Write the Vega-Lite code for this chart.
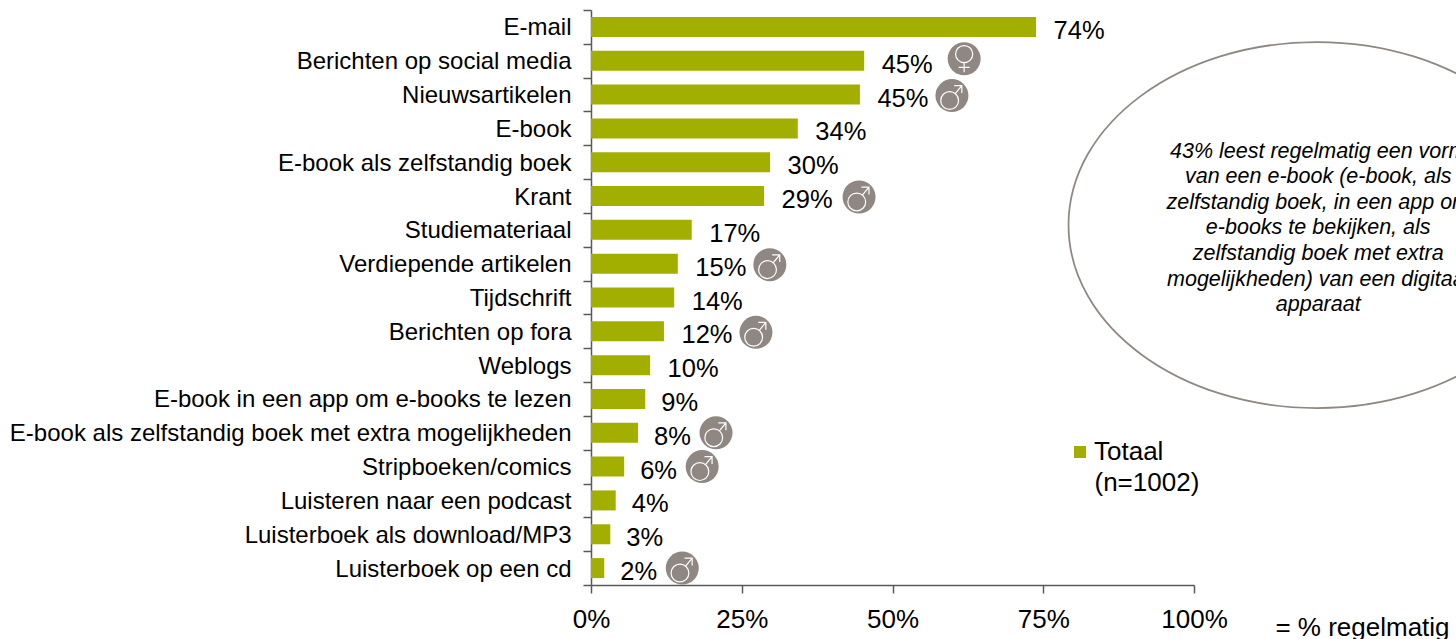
{"$schema":"https://vega.github.io/schema/vega-lite/v6.json","autosize":"none","width":603,"height":575,"padding":{"left":591,"top":10,"right":262,"bottom":54},"background":"white","config":{"view":{"stroke":null},"font":"Liberation Sans"},
"data":{"values":[
{"item":"E-mail","value":73.8,"label":"74%","gender":"","series":"Totaal"},
{"item":"Berichten op social media","value":45.3,"label":"45%","gender":"v","series":"Totaal"},
{"item":"Nieuwsartikelen","value":44.6,"label":"45%","gender":"m","series":"Totaal"},
{"item":"E-book","value":34.3,"label":"34%","gender":"","series":"Totaal"},
{"item":"E-book als zelfstandig boek","value":29.7,"label":"30%","gender":"","series":"Totaal"},
{"item":"Krant","value":28.7,"label":"29%","gender":"k","series":"Totaal"},
{"item":"Studiemateriaal","value":16.7,"label":"17%","gender":"","series":"Totaal"},
{"item":"Verdiepende artikelen","value":14.4,"label":"15%","gender":"m","series":"Totaal"},
{"item":"Tijdschrift","value":13.8,"label":"14%","gender":"","series":"Totaal"},
{"item":"Berichten op fora","value":12.1,"label":"12%","gender":"m","series":"Totaal"},
{"item":"Weblogs","value":9.8,"label":"10%","gender":"","series":"Totaal"},
{"item":"E-book in een app om e-books te lezen","value":9.0,"label":"9%","gender":"","series":"Totaal"},
{"item":"E-book als zelfstandig boek met extra mogelijkheden","value":7.8,"label":"8%","gender":"m","series":"Totaal"},
{"item":"Stripboeken/comics","value":5.5,"label":"6%","gender":"m","series":"Totaal"},
{"item":"Luisteren naar een podcast","value":4.1,"label":"4%","gender":"","series":"Totaal"},
{"item":"Luisterboek als download/MP3","value":3.2,"label":"3%","gender":"","series":"Totaal"},
{"item":"Luisterboek op een cd","value":2.2,"label":"2%","gender":"m","series":"Totaal"}
]},
"encoding":{
"x":{"field":"value","type":"quantitative","scale":{"domain":[0,100],"clamp":false,"nice":false},"axis":{"values":[0,25,50,75,100],"labelExpr":"datum.value+'%'","title":null,"grid":false,"domainColor":"#595959","tickColor":"#595959","domainWidth":1.5,"tickWidth":1.5,"tickSize":8,"labelFontSize":26,"labelColor":"#000000","labelPadding":13,"labelFlush":false,"labelFont":"Liberation Sans"}},
"y":{"field":"item","type":"nominal","sort":null,"scale":{"domain":["E-mail","Berichten op social media","Nieuwsartikelen","E-book","E-book als zelfstandig boek","Krant","Studiemateriaal","Verdiepende artikelen","Tijdschrift","Berichten op fora","Weblogs","E-book in een app om e-books te lezen","E-book als zelfstandig boek met extra mogelijkheden","Stripboeken/comics","Luisteren naar een podcast","Luisterboek als download/MP3","Luisterboek op een cd"],"paddingInner":0,"paddingOuter":0},"axis":{"title":null,"tickBand":"extent","domainColor":"#595959","tickColor":"#595959","domainWidth":1.5,"tickWidth":1.5,"tickSize":8,"labelFontSize":24,"labelColor":"#000000","labelPadding":12,"labelLimit":700,"labelOffset":1,"labelFont":"Liberation Sans"}}
},
"layer":[
{"mark":{"type":"bar","size":20},"encoding":{"color":{"field":"series","type":"nominal","scale":{"range":["#a3af00"]},"legend":{"title":null,"orient":"none","legendX":476,"legendY":429,"symbolType":"square","symbolSize":144,"labelFontSize":26,"labelOffset":1,"labelColor":"#000000","labelFont":"Liberation Sans","symbolOpacity":1}}}},
{"transform":[{"filter":"datum.value>=9.5"}],"mark":{"type":"text","align":"left","baseline":"middle","dx":17.5,"dy":4,"fontSize":25.5,"color":"#000000"},"encoding":{"text":{"field":"label"}}},
{"transform":[{"filter":"datum.value<9.5"}],"mark":{"type":"text","align":"left","baseline":"middle","dx":16,"dy":4,"fontSize":25.5,"color":"#000000"},"encoding":{"text":{"field":"label"}}},
{"transform":[{"filter":"datum.gender=='m' && datum.value>=10"}],"mark":{"type":"point","shape":"circle","filled":true,"size":1089,"color":"#8f8782","opacity":1,"xOffset":92,"yOffset":1}},
{"transform":[{"filter":"datum.gender=='m' && datum.value>=10"}],"mark":{"type":"point","shape":"M0.40,0.3A0.54,0.54,0,1,1,-0.68,0.3A0.54,0.54,0,1,1,0.40,0.3M0.2,-0.117L0.6,-0.6M0.14,-0.6L0.6,-0.6L0.6,-0.16","filled":false,"size":1089,"color":"#ffffff","strokeWidth":1.2,"opacity":1,"xOffset":92,"yOffset":1}},
{"transform":[{"filter":"datum.gender=='k'"}],"mark":{"type":"point","shape":"circle","filled":true,"size":1089,"color":"#8f8782","opacity":1,"xOffset":95,"yOffset":1}},
{"transform":[{"filter":"datum.gender=='k'"}],"mark":{"type":"point","shape":"M0.40,0.3A0.54,0.54,0,1,1,-0.68,0.3A0.54,0.54,0,1,1,0.40,0.3M0.2,-0.117L0.6,-0.6M0.14,-0.6L0.6,-0.6L0.6,-0.16","filled":false,"size":1089,"color":"#ffffff","strokeWidth":1.2,"opacity":1,"xOffset":95,"yOffset":1}},
{"transform":[{"filter":"datum.gender=='m' && datum.value<10"}],"mark":{"type":"point","shape":"circle","filled":true,"size":1089,"color":"#8f8782","opacity":1,"xOffset":78,"yOffset":0}},
{"transform":[{"filter":"datum.gender=='m' && datum.value<10"}],"mark":{"type":"point","shape":"M0.40,0.3A0.54,0.54,0,1,1,-0.68,0.3A0.54,0.54,0,1,1,0.40,0.3M0.2,-0.117L0.6,-0.6M0.14,-0.6L0.6,-0.6L0.6,-0.16","filled":false,"size":1089,"color":"#ffffff","strokeWidth":1.2,"opacity":1,"xOffset":78,"yOffset":0}},
{"transform":[{"filter":"datum.gender=='v'"}],"mark":{"type":"point","shape":"circle","filled":true,"size":1089,"color":"#8f8782","opacity":1,"xOffset":100,"yOffset":-2}},
{"transform":[{"filter":"datum.gender=='v'"}],"mark":{"type":"point","shape":"M0.52,-0.28A0.52,0.52,0,1,1,-0.52,-0.28A0.52,0.52,0,1,1,0.52,-0.28M0,0.24L0,0.82M-0.33,0.52L0.33,0.52","filled":false,"size":1089,"color":"#ffffff","strokeWidth":1.2,"opacity":1,"xOffset":100,"yOffset":-2}},
{"data":{"values":[{"item":"Krant","value":120.4}]},"mark":{"type":"point","shape":"M-1,0A1,0.7364,0,1,1,1,0A1,0.7364,0,1,1,-1,0Z","filled":false,"size":247000,"color":"#8f8782","strokeWidth":1.75,"opacity":1,"yOffset":29,"clip":false}},
{"data":{"values":[{"item":"Krant","value":120.6}]},"mark":{"type":"text","align":"center","baseline":"middle","font":"Liberation Sans","fontStyle":"italic","fontSize":21.5,"lineHeight":25.6,"color":"#000000","dy":-44.5,"text":["43% leest regelmatig een vorm","van een e-book (e-book, als","zelfstandig boek, in een app om","e-books te bekijken, als","zelfstandig boek met extra","mogelijkheden) van een digitaal","apparaat"]}},
{"data":{"values":[{"item":"E-book als zelfstandig boek met extra mogelijkheden","value":83.5}]},"mark":{"type":"text","align":"left","baseline":"middle","fontSize":26,"color":"#000000","text":"(n=1002)","dy":50}},
{"data":{"values":[{"item":"Luisterboek op een cd","value":113.5}]},"mark":{"type":"text","align":"left","baseline":"middle","fontSize":26,"color":"#000000","text":"= % regelmatig","dy":60}}
]}
